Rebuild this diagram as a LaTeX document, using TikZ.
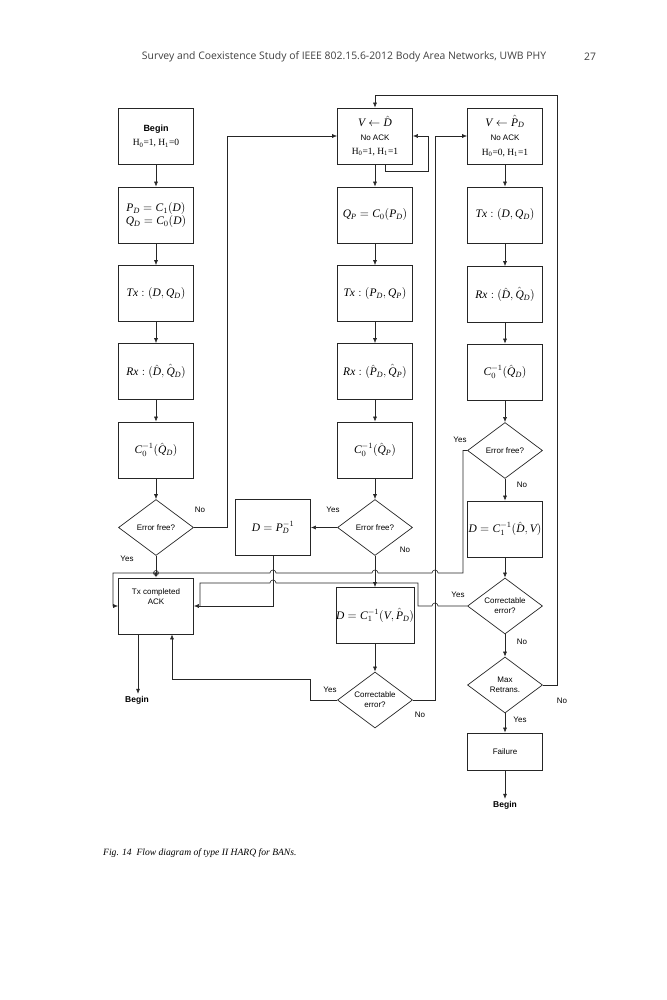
\documentclass[tikz,border=0pt]{standalone}
\usepackage{fontspec}
\setmainfont{Liberation Serif}
\setsansfont{Liberation Sans}
\setmathrm{Liberation Serif}
\newfontfamily\hdrfont{Open Sans}
\newfontfamily\tmsfam[NFSSFamily=ltimes]{Liberation Serif}
\DeclareMathAlphabet{\mi}{TU}{ltimes}{m}{it}
\usetikzlibrary{shapes.geometric,arrows.meta,calc}
\newcommand\sublab[1]{{\sffamily\fontsize{8}{10}\selectfont #1}}
\newcommand\hh[2]{{\fontsize{9.5}{11}\selectfont H\textsubscript{0}=#1, H\textsubscript{1}=#2}}
\begin{document}
\begin{tikzpicture}[x=1pt,y=-1pt,
 box/.style={draw=black!85, line width=0.7pt, minimum width=75pt, minimum height=56pt, inner sep=1pt, align=center, font=\fontsize{11.5}{13.5}\selectfont},
 dia/.style={draw=black!85, diamond, aspect=1.34, line width=0.7pt, minimum width=75pt, minimum height=56pt, inner sep=0pt, align=center, font=\sffamily\fontsize{8}{10}\selectfont},
 lab/.style={font=\sffamily\fontsize{8}{10}\selectfont, inner sep=0pt},
 endlab/.style={font=\sffamily\bfseries\fontsize{8.5}{10}\selectfont, inner sep=2pt},
 arr/.style={draw=black!85, line width=0.6pt, -{Latex[length=5pt,width=4pt]}},
 ln/.style={draw=black!85, line width=0.6pt},
]
\useasboundingbox (0,0) rectangle (666,1000);

% header
\node[font=\hdrfont\fontsize{10.4}{12}\selectfont, text=black!75] (hdr) at (344,57) {Survey and Coexistence Study of IEEE 802.15.6-2012 Body Area Networks, UWB PHY};
\node[font=\hdrfont\fontsize{10.4}{12}\selectfont, text=black!75] (pg) at (590,57) {27};

% left column
\node[box] (L1) at (156,136) {{\sffamily\bfseries\fontsize{9}{11}\selectfont Begin}\\[1pt]\hh{1}{0}};
\node[box] (L2) at (156,215) {$\mi{P}_{\mi{D}}=\mi{C}_1(\mi{D})$\\$\mi{Q}_{\mi{D}}=\mi{C}_0(\mi{D})$};
\node[box] (L3) at (156,293.5) {$\mi{Tx}:(\mi{D},\mi{Q}_{\mi{D}})$};
\node[box] (L4) at (156,371.5) {$\mi{Rx}:(\hat{\mi{D}},\hat{\mi{Q}}_{\mi{D}})$};
\node[box] (L5) at (156,450) {$\mi{C}_0^{-1}(\hat{\mi{Q}}_{\mi{D}})$};
\node[dia] (LD) at (156,527.5) {Error free?};
\node[box, font=\sffamily\fontsize{8}{10}\selectfont] (LT) at (156,606) {Tx completed\\ACK\\[8pt]};
\node[endlab] (B1) at (137,700) {Begin};

% middle column
\node[box] (M1) at (375,136) {$\mi{V}\leftarrow\hat{\mi{D}}$\\\sublab{No ACK}\\[1pt]\hh{1}{1}};
\node[box] (M2) at (375,215) {$\mi{Q}_{\mi{P}}=\mi{C}_0(\mi{P}_{\mi{D}})$};
\node[box] (M3) at (375,293.5) {$\mi{Tx}:(\mi{P}_{\mi{D}},\mi{Q}_{\mi{P}})$};
\node[box] (M4) at (375,371.5) {$\mi{Rx}:(\hat{\mi{P}}_{\mi{D}},\hat{\mi{Q}}_{\mi{P}})$};
\node[box] (M5) at (375,450) {$\mi{C}_0^{-1}(\hat{\mi{Q}}_{\mi{P}})$};
\node[dia] (MD) at (375,527.5) {Error free?};
\node[box] (MP) at (273,527.5) {$\mi{D}=\mi{P}_{\mi{D}}^{-1}$};
\node[box, inner sep=0pt] (M6) at (375,615.5) {$\mi{D}=\mi{C}_1^{-1}(\mi{V},\hat{\mi{P}}_{\mi{D}})$};
\node[dia] (M7) at (375,700) {Correctable\\error?};

% right column
\node[box] (R1) at (505,136) {$\mi{V}\leftarrow\hat{\mi{P}}_{\mi{D}}$\\[1pt]\sublab{No ACK}\\[1pt]\hh{0}{1}};
\node[box] (R2) at (505,215) {$\mi{Tx}:(\mi{D},\mi{Q}_{\mi{D}})$};
\node[box] (R3) at (505,294.5) {$\mi{Rx}:(\hat{\mi{D}},\hat{\mi{Q}}_{\mi{D}})$};
\node[box] (R4) at (505,372) {$\mi{C}_0^{-1}(\hat{\mi{Q}}_{\mi{D}})$};
\node[dia] (RD) at (505,450.5) {Error free?};
\node[box, inner sep=0pt] (R5) at (505,529) {$\mi{D}=\mi{C}_1^{-1}(\hat{\mi{D}},\mi{V})$};
\node[dia] (RC) at (505,606) {Correctable\\error?};
\node[dia] (RM) at (505,685) {Max\\Retrans.};
\node[box, minimum height=37pt, font=\sffamily\fontsize{8}{10}\selectfont] (RF) at (505,751.5) {Failure};
\node[endlab] (B2) at (505,805) {Begin};

% left column flow
\draw[arr] (L1) -- (L2);
\draw[arr] (L2) -- (L3);
\draw[arr] (L3) -- (L4);
\draw[arr] (L4) -- (L5);
\draw[arr] (L5) -- (LD);
\draw[arr] (LD) -- (LT);
\draw[ln] (156,573) circle (2.5);
\draw[arr] ([xshift=-18pt]LT.south) -- ([xshift=-18pt]LT.south |- B1.north);
\draw[arr] (LD.east) -- (227,527.5) -- (227,136) -- (M1.west);

% middle column flow
\draw[arr] (M1) -- (M2);
\draw[arr] (M2) -- (M3);
\draw[arr] (M3) -- (M4);
\draw[arr] (M4) -- (M5);
\draw[arr] (M5) -- (MD);
\draw[arr] (MD) -- (MP);
\draw[arr] (MD) -- (M6);
\draw[arr] (M6) -- (M7);
\draw[arr] ([xshift=10pt]M1.south) -- ++(0,7) -| ([xshift=15pt]M1.east) -- (M1.east);
\draw[arr] (MP.south) -- (273,606) -- (LT.east);
\draw[arr] (M7.west) -- (310,700) -- (310,679) -- (172,679) -- ([xshift=16pt]LT.south);
\draw[arr] (M7.east) -- (435,700) -- (435,136) -- (R1.west);

% right column flow
\draw[arr] (R1) -- (R2);
\draw[arr] (R2) -- (R3);
\draw[arr] (R3) -- (R4);
\draw[arr] (R4) -- (RD);
\draw[arr] (RD) -- (R5);
\draw[arr] (R5) -- (RC);
\draw[arr] (RC) -- (RM);
\draw[arr] (RM) -- (RF);
\draw[arr] (RF) -- (B2);
\draw[arr] (RM.east) -- (557,685) -- (557,95) -- (375,95) -- (M1.north);

% long connectors with hops
\draw[arr] (RD.west) -- (463,450.5) -- (463,573) -- (438,573) arc (0:-180:3) -- (378,573) arc (0:-180:3) -- (276,573) arc (0:-180:3) -- (113,573) |- (LT.west);
\draw[ln] (RC.west) -- (438,606) arc (0:-180:3) -- (418,606) -- (418,583) -- (276,583) arc (0:-180:3) -- (200,583) -- (200,606);

% labels
\node[lab] (t1) at (200,510) {No};
\node[lab] (t2) at (127,559) {Yes};
\node[lab] (t3) at (333,510) {Yes};
\node[lab] (t4) at (405,550) {No};
\node[lab] (t5) at (460,440) {Yes};
\node[lab] (t6) at (522,485) {No};
\node[lab] (t7) at (458,595) {Yes};
\node[lab] (t8) at (522,642) {No};
\node[lab] (t9) at (330,690) {Yes};
\node[lab] (t10) at (420,715) {No};
\node[lab] (t11) at (562,701) {No};
\node[lab] (t12) at (520,720) {Yes};

% caption
\node[anchor=west, font=\itshape\fontsize{9.6}{12}\selectfont, inner sep=0pt] (cap) at (103,853) {Fig. 14\ \ Flow diagram of type II HARQ for BANs.};
\end{tikzpicture}
\end{document}
